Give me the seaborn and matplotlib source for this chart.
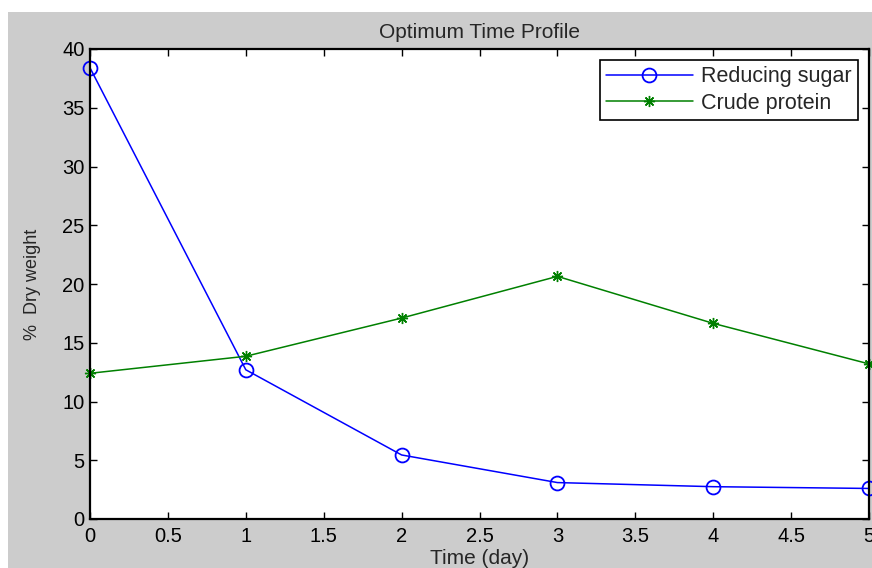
import seaborn as sns
import matplotlib.pyplot as plt
import pandas as pd
from matplotlib.patches import Rectangle

# data
days = [0, 1, 2, 3, 4, 5]
reducing_sugar = [38.4, 12.7, 5.45, 3.1, 2.75, 2.6]
crude_protein = [12.4, 13.85, 17.1, 20.65, 16.65, 13.2]
x_ticks = [0, 0.5, 1, 1.5, 2, 2.5, 3, 3.5, 4, 4.5, 5]
x_labels = ['0', '0.5', '1', '1.5', '2', '2.5', '3', '3.5', '4', '4.5', '5']
y_ticks = [0, 5, 10, 15, 20, 25, 30, 35, 40]

sns.set_theme(style="white")
plt.rcParams['font.family'] = ['Liberation Sans', 'DejaVu Sans']

fig = plt.figure(figsize=(8.72, 5.68), dpi=100, facecolor='white')
# gray MATLAB-style figure background (white strip at top/left of the screenshot)
fig.patches.append(Rectangle((8 / 872, 0), 1, (568 - 12) / 568, transform=fig.transFigure,
                             facecolor='#cccccc', edgecolor='none', zorder=-10))

ax = fig.add_axes([90 / 872, 49 / 568, (869 - 90) / 872, (519 - 49) / 568])
ax.set_facecolor('white')

df = pd.DataFrame({'day': days, 'sugar': reducing_sugar, 'protein': crude_protein})

sns.lineplot(data=df, x='day', y='sugar', ax=ax, color='#0000ff', linewidth=1.1,
             marker='o', markersize=10, markerfacecolor='none', markeredgecolor='#0000ff',
             markeredgewidth=1.3, label='Reducing sugar', clip_on=False)
sns.lineplot(data=df, x='day', y='protein', ax=ax, color='#008000', linewidth=1.1,
             marker=(8, 2, 0), markersize=8, markerfacecolor='#008000', markeredgecolor='#008000',
             markeredgewidth=1.0, label='Crude protein', clip_on=False)

ax.set_xlim(0, 5)
ax.set_ylim(0, 40)
ax.set_xticks(x_ticks)
ax.set_xticklabels(x_labels)
ax.set_yticks(y_ticks)
ax.tick_params(direction='in', length=5, width=1, labelsize=14.5, colors='black',
               top=True, right=True, bottom=True, left=True)
ax.tick_params(axis='x', pad=6)
ax.tick_params(axis='y', pad=4)
for s in ax.spines.values():
    s.set_color('black')
    s.set_linewidth(1.6)

ax.set_title('Optimum Time Profile', fontsize=15, pad=8)
ax.set_xlabel('Time (day)', fontsize=15, labelpad=2)
ax.set_ylabel('%  Dry weight', fontsize=13, labelpad=15)

leg = ax.legend(loc='upper right', fontsize=15.5, frameon=True, fancybox=False,
                edgecolor='black', framealpha=1, borderaxespad=0.5,
                handlelength=4.0, handletextpad=0.4, borderpad=0.3, labelspacing=0.25)
leg.get_frame().set_linewidth(1.2)

fig.savefig('out.png', dpi=100, facecolor=fig.get_facecolor())
